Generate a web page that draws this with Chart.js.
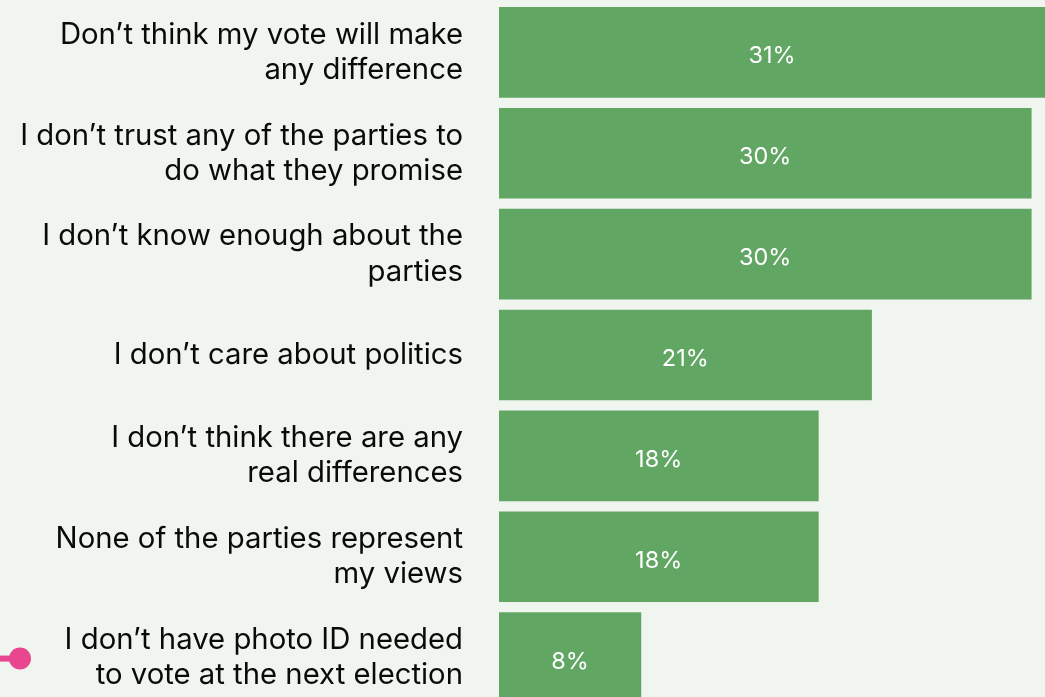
<!DOCTYPE html>
<html>
<head>
<meta charset="utf-8">
<script src="https://cdn.jsdelivr.net/npm/chart.js@4.4.0/dist/chart.umd.min.js"></script>
<style>
  html, body { margin: 0; padding: 0; background: #f1f5ef; overflow: hidden; }
  .wrap { position: relative; width: 1049px; height: 708px; }
</style>
</head>
<body>
<div class="wrap"><canvas id="reasonsChart"></canvas></div>
<script>
"use strict";

const reasons = [
  ["Don’t think my vote will make", "any difference"],
  ["I don’t trust any of the parties to", "do what they promise"],
  ["I don’t know enough about the", "parties"],
  ["I don’t care about politics"],
  ["I don’t think there are any", "real differences"],
  ["None of the parties represent", "my views"],
  ["I don’t have photo ID needed", "to vote at the next election"]
];
const shares = [31, 30, 30, 21, 18, 18, 8];
const highlighted = [6];

const BAR_GREEN = "#62a664";
const PINK = "#e8468e";

const valueLabels = {
  id: "valueLabels",
  afterDatasetsDraw(chart) {
    const { ctx } = chart;
    const visibleRight = Math.min(chart.chartArea.right, window.innerWidth);
    chart.getDatasetMeta(0).data.forEach((bar, i) => {
      const end = Math.min(bar.x, visibleRight);
      ctx.save();
      ctx.fillStyle = "#ffffff";
      ctx.font = "400 23.5px Inter";
      ctx.textAlign = "center";
      ctx.textBaseline = "middle";
      ctx.fillText(`${shares[i]}%`, (bar.base + end) / 2, bar.y + 4);
      ctx.restore();
    });
  }
};

const highlightMarker = {
  id: "highlightMarker",
  afterDraw(chart) {
    const { ctx } = chart;
    const yScale = chart.scales.y;
    highlighted.forEach((idx) => {
      const y = yScale.getPixelForValue(idx) + 1;
      ctx.save();
      ctx.strokeStyle = PINK;
      ctx.fillStyle = PINK;
      ctx.lineWidth = 6;
      ctx.beginPath();
      ctx.moveTo(0, y);
      ctx.lineTo(20, y);
      ctx.stroke();
      ctx.beginPath();
      ctx.arc(20, y, 11, 0, Math.PI * 2);
      ctx.fill();
      ctx.restore();
    });
  }
};

new Chart(document.getElementById("reasonsChart"), {
  type: "bar",
  data: {
    labels: reasons,
    datasets: [
      {
        data: shares,
        backgroundColor: BAR_GREEN,
        borderWidth: 0,
        barThickness: 90
      }
    ]
  },
  options: {
    indexAxis: "y",
    responsive: true,
    maintainAspectRatio: false,
    animation: false,
    layout: { padding: { top: 2, right: 0, bottom: 0, left: 0 } },
    plugins: {
      legend: { display: false },
      tooltip: { enabled: false }
    },
    scales: {
      x: { display: false, min: 0, max: 31 },
      y: {
        grid: { display: false, drawTicks: false },
        border: { display: false },
        ticks: {
          color: "#0a0a0a",
          padding: 36,
          font: { family: "Inter", size: 29.3, weight: "400", lineHeight: 1.2 }
        },
        afterFit: (scale) => {
          scale.width = 499;
          scale.paddingTop = 0;
          scale.paddingBottom = 0;
        }
      }
    }
  },
  plugins: [valueLabels, highlightMarker]
});
</script>
</body>
</html>
